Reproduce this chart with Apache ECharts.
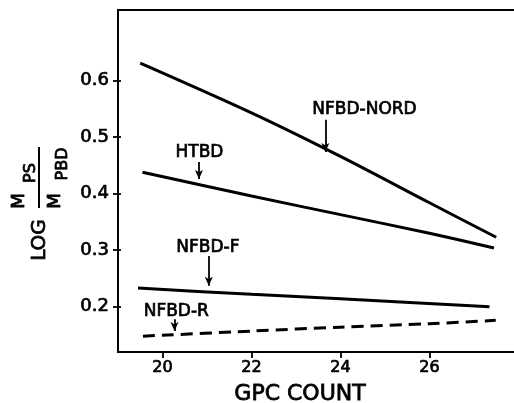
<!DOCTYPE html>
<html>
<head>
<meta charset="utf-8">
<title>GPC count</title>
<style>
    html, body { margin: 0; padding: 0; background: #fff; }
    #chart { width: 514px; height: 403px; }
</style>
</head>
<body>
<div id="chart"></div>
<script src="https://cdn.jsdelivr.net/npm/echarts@6/dist/echarts.min.js"></script>
<script type="text/javascript">
    // values
    var xTicks = [20, 22, 24, 26];
    var yTicks = [0.2, 0.3, 0.4, 0.5, 0.6];

    var nordX = [19.5, 22, 24, 26, 27.5];
    var nordY = [0.631, 0.543, 0.466, 0.384, 0.323];
    var htbdX = [19.55, 22, 24, 26, 27.45];
    var htbdY = [0.438, 0.396, 0.363, 0.330, 0.304];
    var fX = [19.45, 22, 24, 27.35];
    var fY = [0.233, 0.222, 0.214, 0.200];
    var rX = [19.56, 22, 24, 26, 27.49];
    var rY = [0.148, 0.157, 0.164, 0.170, 0.176];

    // labels and arrows (data coords)
    var annoText = ['NFBD-NORD', 'HTBD', 'NFBD-F', 'NFBD-R'];
    var annoTextX = [24.54, 20.83, 21.02, 20.31];
    var annoTextY = [0.548, 0.473, 0.304, 0.192];
    var arrowX = [23.66, 20.82, 21.04, 20.27];
    var arrowFrom = [0.531, 0.456, 0.290, 0.178];
    var arrowTo = [0.474, 0.426, 0.237, 0.157];

    var font = 'DejaVu Sans';
    // a thin outline gives the medium weight of the print
    var ink = { color: '#000', fontFamily: font, textBorderColor: '#000', textBorderWidth: 0.7 };

    function pairs(xs, ys) {
        return xs.map(function (x, i) { return [x, ys[i]]; });
    }

    function line(name, data, i, dashed) {
        return {
            name: name,
            type: 'line',
            data: data,
            smooth: 0.3,
            symbol: 'none',
            lineStyle: { color: '#000', width: 3, type: dashed ? [12, 7] : 'solid' },
            markLine: {
                silent: true,
                symbol: ['none', 'arrow'],
                symbolSize: [6, 9],
                label: { show: false },
                lineStyle: { color: '#000', width: 1.8, type: 'solid' },
                data: [[{ coord: [arrowX[i], arrowFrom[i]] }, { coord: [arrowX[i], arrowTo[i]] }]]
            },
            markPoint: {
                silent: true,
                symbolSize: 0,
                label: Object.assign({ show: true, position: 'inside', fontSize: 17, formatter: annoText[i] }, ink),
                data: [{ coord: [annoTextX[i], annoTextY[i]] }]
            }
        };
    }

    function vtext(x, y, txt, size) {
        return {
            type: 'text', x: x, y: y, rotation: Math.PI / 2,
            style: {
                text: txt, fontFamily: font, fontSize: size, fill: '#000',
                stroke: '#000', lineWidth: 0.8, align: 'center', verticalAlign: 'middle'
            }
        };
    }

    var myChart = echarts.init(document.getElementById('chart'));
    var option = {
        animation: false,
        backgroundColor: '#fff',
        grid: { left: 118, top: 10, right: 0, bottom: 51 },
        xAxis: [
            {
                type: 'value', min: 19, max: 27.9,
                axisLine: { show: true, lineStyle: { color: '#000', width: 2 } },
                axisTick: { show: true, customValues: xTicks, length: 6, lineStyle: { color: '#000', width: 1.8 } },
                axisLabel: Object.assign({ customValues: xTicks, fontSize: 16, margin: 8 }, ink),
                splitLine: { show: false }
            },
            {
                // top frame line
                type: 'value', position: 'top', min: 19, max: 27.9,
                axisLine: { show: true, lineStyle: { color: '#000', width: 2 } },
                axisTick: { show: false }, axisLabel: { show: false }, splitLine: { show: false }
            }
        ],
        yAxis: [
            {
                type: 'value', min: 0.12, max: 0.725,
                axisLine: { show: true, lineStyle: { color: '#000', width: 2 } },
                axisTick: { show: true, customValues: yTicks, length: 5, lineStyle: { color: '#000', width: 1.8 } },
                axisLabel: Object.assign({
                    customValues: yTicks, fontSize: 18, margin: 9,
                    formatter: function (v) { return v.toFixed(1); }
                }, ink),
                splitLine: { show: false }
            },
            {
                // inner half of the crossing ticks
                type: 'value', position: 'left', min: 0.12, max: 0.725,
                axisLine: { show: false },
                axisTick: { show: true, inside: true, customValues: yTicks, length: 3, lineStyle: { color: '#000', width: 1.8 } },
                axisLabel: { show: false }, splitLine: { show: false }
            }
        ],
        graphic: [
            {
                type: 'text', x: 300, y: 394,
                style: {
                    text: 'GPC COUNT', fontFamily: font, fontSize: 22, fill: '#000',
                    stroke: '#000', lineWidth: 0.8, align: 'center', verticalAlign: 'middle'
                }
            },
            vtext(40, 240, 'LOG', 20),
            vtext(19, 201, 'M', 18),
            vtext(31, 173, 'PS', 16),
            { type: 'line', shape: { x1: 39, y1: 147, x2: 39, y2: 208 }, style: { stroke: '#000', lineWidth: 2 } },
            vtext(55, 201, 'M', 18),
            vtext(63, 164, 'PBD', 16)
        ],
        series: [
            line('NFBD-NORD', pairs(nordX, nordY), 0, false),
            line('HTBD', pairs(htbdX, htbdY), 1, false),
            line('NFBD-F', pairs(fX, fY), 2, false),
            line('NFBD-R', pairs(rX, rY), 3, true)
        ]
    };
    myChart.setOption(option);
</script>
</body>
</html>
